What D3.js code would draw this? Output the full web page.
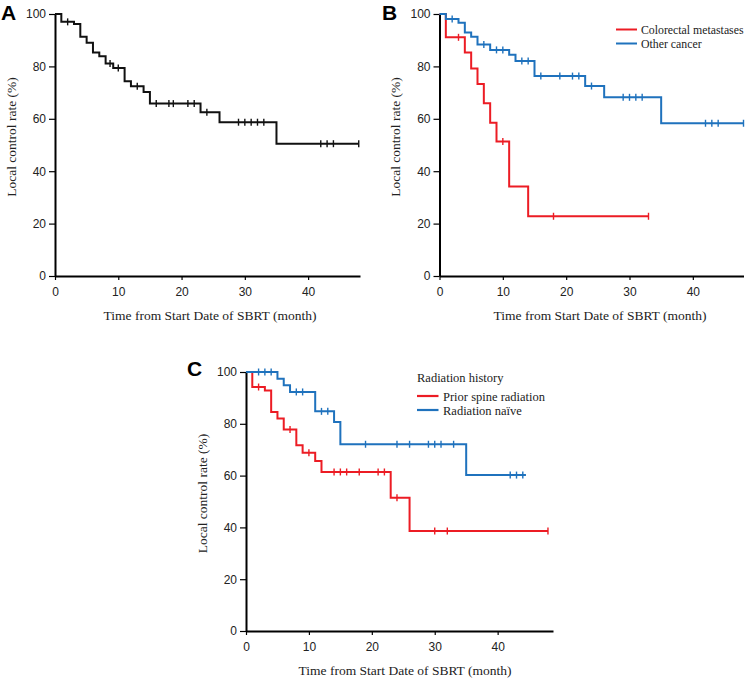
<!DOCTYPE html>
<html><head><meta charset="utf-8">
<script src="https://cdn.jsdelivr.net/npm/d3@7"></script>
<style>
body{margin:0;background:#fff;}
svg{display:block;}
.tick text{font-family:"Liberation Sans",Arial,sans-serif;font-size:12px;fill:#222;}
.serif{font-family:"Liberation Serif","Times New Roman",serif;fill:#222;}
</style></head>
<body>
<svg id="chart" width="746" height="682"></svg>
<script>
// ---------- data ----------
const xTicks = [0, 10, 20, 30, 40];
const yTicks = [0, 20, 40, 60, 80, 100];

// Panel A (all patients)
const aTimes   = [0, 1, 3, 4, 5, 6, 7, 8, 9.2, 11, 12, 14, 15, 23, 26, 35];
const aValues  = [100, 97.0, 96.2, 91.3, 89.0, 85.3, 83.9, 81.1, 79.4, 74.3, 72.4, 70.2, 65.8, 62.5, 58.7, 50.5];
const aCensor  = [2, 8.7, 10, 13, 16, 18, 18.7, 21, 22, 24, 29, 30, 31, 32, 33, 42, 43, 44, 48];
const aEnd = 48;

// Panel B
const bSeriesNames = ["Colorectal metastases", "Other cancer"];
const bRedTimes   = [0, 1, 4, 5, 6, 7, 8, 9, 11, 14];
const bRedValues  = [100, 91.1, 85.3, 79.2, 73.3, 65.9, 58.5, 51.3, 34.2, 22.8];
const bRedCensor  = [3, 10, 18, 33];
const bRedEnd = 33;
const bBlueTimes  = [0, 1, 3, 4, 5, 6, 8, 11, 12, 15, 23, 26, 35];
const bBlueValues = [100, 98.1, 96.7, 92.9, 91.3, 88.4, 86.3, 84.4, 82.1, 76.3, 72.5, 68.2, 58.3];
const bBlueCensor = [2, 7, 9, 10, 13, 14, 16, 19, 21, 22, 24, 29, 30, 31, 32, 42, 43, 44, 48];
const bBlueEnd = 48;

// Panel C
const cLegendTitle = "Radiation history";
const cSeriesNames = ["Prior spine radiation", "Radiation naïve"];
const cRedTimes   = [0, 1, 3, 4, 5, 6, 8, 9, 11, 12, 23, 26];
const cRedValues  = [100, 94.2, 92.9, 84.6, 82.0, 77.8, 71.7, 68.8, 65.6, 61.4, 51.4, 38.6];
const cRedCensor  = [2, 7, 10, 14, 15, 16, 18, 21, 22, 24, 30, 32, 48];
const cRedEnd = 48;
const cBlueTimes  = [0, 5, 6, 7, 11, 14, 15, 35];
const cBlueValues = [100, 97.4, 94.9, 92.3, 84.8, 80.7, 72.1, 60.2];
const cBlueCensor = [2, 3, 4, 8, 9, 12, 13, 19, 24, 26, 29, 30, 31, 33, 42, 43, 44];
const cBlueEnd = 44.5;

const xLabel = "Time from Start Date of SBRT (month)";
const yLabel = "Local control rate (%)";

// ---------- drawing ----------
const RED = "#ec1c24", BLUE = "#1f72bd", BLACK = "#111";
const svg = d3.select("#chart");

function drawPanel(cfg) {
  const x = d3.scaleLinear().domain(cfg.xDomain).range(cfg.xRange);
  const y = d3.scaleLinear().domain([0, 100]).range(cfg.yRange);
  const g = svg.append("g");

  // axes
  const xa = g.append("g").attr("transform", `translate(0,${cfg.yRange[0]})`)
    .call(d3.axisBottom(x).tickValues(xTicks).tickSize(4).tickPadding(5).tickSizeOuter(0));
  const ya = g.append("g").attr("transform", `translate(${cfg.xRange[0]},0)`)
    .call(d3.axisLeft(y).tickValues(yTicks).tickSize(6).tickPadding(3).tickSizeOuter(0));
  [xa, ya].forEach(a => {
    a.select(".domain").attr("stroke", "#000").attr("stroke-width", 2);
    a.selectAll(".tick line").attr("stroke", "#000").attr("stroke-width", 1.2);
  });
  xa.selectAll(".tick text").attr("dy", "0.9em");

  // curves
  cfg.series.forEach(s => {
    const pts = [];
    s.times.forEach((t, i) => {
      if (i > 0) pts.push([t, s.values[i - 1]]);
      pts.push([t, s.values[i]]);
    });
    pts.push([s.end, s.values[s.values.length - 1]]);
    g.append("path")
      .attr("d", d3.line().x(d => x(d[0])).y(d => y(d[1]))(pts))
      .attr("fill", "none").attr("stroke", s.color).attr("stroke-width", 2)
      .attr("stroke-linejoin", "miter");
    const levelAt = t => {
      let v = s.values[0];
      s.times.forEach((tt, i) => { if (tt <= t) v = s.values[i]; });
      return v;
    };
    g.selectAll(null).data(s.censor).enter().append("line")
      .attr("x1", d => x(d)).attr("x2", d => x(d))
      .attr("y1", d => y(levelAt(d)) - 3.5).attr("y2", d => y(levelAt(d)) + 3.5)
      .attr("stroke", s.color).attr("stroke-width", 1.4);
  });

  // axis titles
  g.append("text").attr("class", "serif").attr("x", cfg.xTitleX).attr("y", cfg.yRange[0] + 44)
    .attr("text-anchor", "middle").attr("font-size", 13.5).text(xLabel);
  const cy = (cfg.yRange[0] + cfg.yRange[1]) / 2 - 8;
  g.append("text").attr("class", "serif")
    .attr("transform", `translate(${cfg.yTitleX},${cy}) rotate(-90)`)
    .attr("text-anchor", "middle").attr("font-size", 13.5).text(yLabel);

  // panel letter
  g.append("text").attr("x", cfg.letterX).attr("y", cfg.letterY)
    .attr("font-family", "Liberation Sans, Arial, sans-serif").attr("font-weight", "bold")
    .attr("font-size", 21).attr("fill", "#000").text(cfg.letter);
  return g;
}

drawPanel({
  letter: "A", letterX: 1, letterY: 20,
  xDomain: [0, 48.2], xRange: [55, 360], yRange: [276, 14],
  xTitleX: 210, yTitleX: 16,
  series: [{times: aTimes, values: aValues, censor: aCensor, end: aEnd, color: BLACK}]
});

const gB = drawPanel({
  letter: "B", letterX: 382, letterY: 20,
  xDomain: [0, 48], xRange: [439.5, 743.5], yRange: [276, 14],
  xTitleX: 600, yTitleX: 400,
  series: [
    {times: bRedTimes, values: bRedValues, censor: bRedCensor, end: bRedEnd, color: RED},
    {times: bBlueTimes, values: bBlueValues, censor: bBlueCensor, end: bBlueEnd, color: BLUE}
  ]
});
const legB = gB.append("g");
[RED, BLUE].forEach((c, i) => {
  legB.append("line").attr("x1", 616).attr("x2", 637).attr("y1", 29.5 + i * 14).attr("y2", 29.5 + i * 14)
    .attr("stroke", c).attr("stroke-width", 2);
  legB.append("text").attr("class", "serif").attr("x", 641).attr("y", 34 + i * 14)
    .attr("font-size", 11.8).text(bSeriesNames[i]);
});

const gC = drawPanel({
  letter: "C", letterX: 187, letterY: 376,
  xDomain: [0, 48.8], xRange: [246, 553], yRange: [631, 372],
  xTitleX: 405, yTitleX: 207,
  series: [
    {times: cRedTimes, values: cRedValues, censor: cRedCensor, end: cRedEnd, color: RED},
    {times: cBlueTimes, values: cBlueValues, censor: cBlueCensor, end: cBlueEnd, color: BLUE}
  ]
});
const legC = gC.append("g");
legC.append("text").attr("class", "serif").attr("x", 417).attr("y", 382)
  .attr("font-size", 12.5).text(cLegendTitle);
[RED, BLUE].forEach((c, i) => {
  legC.append("line").attr("x1", 417).attr("x2", 438.5).attr("y1", 396 + i * 14).attr("y2", 396 + i * 14)
    .attr("stroke", c).attr("stroke-width", 2.2);
  legC.append("text").attr("class", "serif").attr("x", 443).attr("y", 400.5 + i * 14)
    .attr("font-size", 12.5).text(cSeriesNames[i]);
});
</script>
</body></html>
